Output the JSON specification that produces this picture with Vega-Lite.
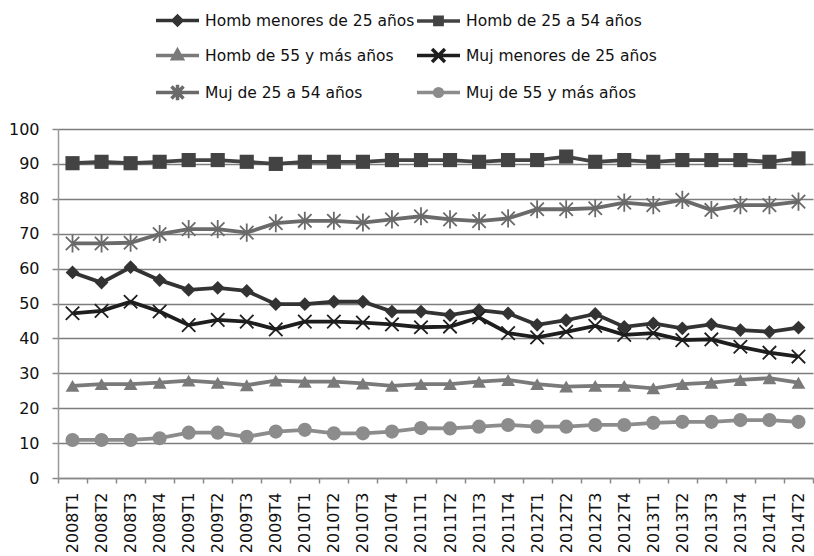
{
  "$schema": "https://vega.github.io/schema/vega-lite/v6.json",
  "width": 755,
  "height": 349,
  "autosize": "none",
  "padding": {"left": 58, "top": 129, "right": 1, "bottom": 78},
  "background": "white",
  "config": {"view": {"stroke": null}},
  "datasets": {
    "serie": [
      {"periodo":"2008T1","serie":"Homb menores de 25 años","valor":58.9},
      {"periodo":"2008T2","serie":"Homb menores de 25 años","valor":56.0},
      {"periodo":"2008T3","serie":"Homb menores de 25 años","valor":60.4},
      {"periodo":"2008T4","serie":"Homb menores de 25 años","valor":56.7},
      {"periodo":"2009T1","serie":"Homb menores de 25 años","valor":53.9},
      {"periodo":"2009T2","serie":"Homb menores de 25 años","valor":54.5},
      {"periodo":"2009T3","serie":"Homb menores de 25 años","valor":53.6},
      {"periodo":"2009T4","serie":"Homb menores de 25 años","valor":49.8},
      {"periodo":"2010T1","serie":"Homb menores de 25 años","valor":49.8},
      {"periodo":"2010T2","serie":"Homb menores de 25 años","valor":50.5},
      {"periodo":"2010T3","serie":"Homb menores de 25 años","valor":50.5},
      {"periodo":"2010T4","serie":"Homb menores de 25 años","valor":47.7},
      {"periodo":"2011T1","serie":"Homb menores de 25 años","valor":47.7},
      {"periodo":"2011T2","serie":"Homb menores de 25 años","valor":46.7},
      {"periodo":"2011T3","serie":"Homb menores de 25 años","valor":48.1},
      {"periodo":"2011T4","serie":"Homb menores de 25 años","valor":47.2},
      {"periodo":"2012T1","serie":"Homb menores de 25 años","valor":43.9},
      {"periodo":"2012T2","serie":"Homb menores de 25 años","valor":45.2},
      {"periodo":"2012T3","serie":"Homb menores de 25 años","valor":47.0},
      {"periodo":"2012T4","serie":"Homb menores de 25 años","valor":43.3},
      {"periodo":"2013T1","serie":"Homb menores de 25 años","valor":44.3},
      {"periodo":"2013T2","serie":"Homb menores de 25 años","valor":42.9},
      {"periodo":"2013T3","serie":"Homb menores de 25 años","valor":44.0},
      {"periodo":"2013T4","serie":"Homb menores de 25 años","valor":42.4},
      {"periodo":"2014T1","serie":"Homb menores de 25 años","valor":41.9},
      {"periodo":"2014T2","serie":"Homb menores de 25 años","valor":43.1},
      {"periodo":"2008T1","serie":"Homb de 25 a 54 años","valor":90.2},
      {"periodo":"2008T2","serie":"Homb de 25 a 54 años","valor":90.6},
      {"periodo":"2008T3","serie":"Homb de 25 a 54 años","valor":90.2},
      {"periodo":"2008T4","serie":"Homb de 25 a 54 años","valor":90.6},
      {"periodo":"2009T1","serie":"Homb de 25 a 54 años","valor":91.1},
      {"periodo":"2009T2","serie":"Homb de 25 a 54 años","valor":91.1},
      {"periodo":"2009T3","serie":"Homb de 25 a 54 años","valor":90.6},
      {"periodo":"2009T4","serie":"Homb de 25 a 54 años","valor":90.0},
      {"periodo":"2010T1","serie":"Homb de 25 a 54 años","valor":90.6},
      {"periodo":"2010T2","serie":"Homb de 25 a 54 años","valor":90.6},
      {"periodo":"2010T3","serie":"Homb de 25 a 54 años","valor":90.6},
      {"periodo":"2010T4","serie":"Homb de 25 a 54 años","valor":91.1},
      {"periodo":"2011T1","serie":"Homb de 25 a 54 años","valor":91.1},
      {"periodo":"2011T2","serie":"Homb de 25 a 54 años","valor":91.1},
      {"periodo":"2011T3","serie":"Homb de 25 a 54 años","valor":90.6},
      {"periodo":"2011T4","serie":"Homb de 25 a 54 años","valor":91.1},
      {"periodo":"2012T1","serie":"Homb de 25 a 54 años","valor":91.1},
      {"periodo":"2012T2","serie":"Homb de 25 a 54 años","valor":92.1},
      {"periodo":"2012T3","serie":"Homb de 25 a 54 años","valor":90.6},
      {"periodo":"2012T4","serie":"Homb de 25 a 54 años","valor":91.1},
      {"periodo":"2013T1","serie":"Homb de 25 a 54 años","valor":90.6},
      {"periodo":"2013T2","serie":"Homb de 25 a 54 años","valor":91.1},
      {"periodo":"2013T3","serie":"Homb de 25 a 54 años","valor":91.1},
      {"periodo":"2013T4","serie":"Homb de 25 a 54 años","valor":91.1},
      {"periodo":"2014T1","serie":"Homb de 25 a 54 años","valor":90.6},
      {"periodo":"2014T2","serie":"Homb de 25 a 54 años","valor":91.6},
      {"periodo":"2008T1","serie":"Homb de 55 y más años","valor":26.4},
      {"periodo":"2008T2","serie":"Homb de 55 y más años","valor":26.9},
      {"periodo":"2008T3","serie":"Homb de 55 y más años","valor":26.9},
      {"periodo":"2008T4","serie":"Homb de 55 y más años","valor":27.3},
      {"periodo":"2009T1","serie":"Homb de 55 y más años","valor":27.9},
      {"periodo":"2009T2","serie":"Homb de 55 y más años","valor":27.3},
      {"periodo":"2009T3","serie":"Homb de 55 y más años","valor":26.6},
      {"periodo":"2009T4","serie":"Homb de 55 y más años","valor":27.9},
      {"periodo":"2010T1","serie":"Homb de 55 y más años","valor":27.6},
      {"periodo":"2010T2","serie":"Homb de 55 y más años","valor":27.6},
      {"periodo":"2010T3","serie":"Homb de 55 y más años","valor":27.1},
      {"periodo":"2010T4","serie":"Homb de 55 y más años","valor":26.4},
      {"periodo":"2011T1","serie":"Homb de 55 y más años","valor":26.9},
      {"periodo":"2011T2","serie":"Homb de 55 y más años","valor":26.9},
      {"periodo":"2011T3","serie":"Homb de 55 y más años","valor":27.6},
      {"periodo":"2011T4","serie":"Homb de 55 y más años","valor":28.1},
      {"periodo":"2012T1","serie":"Homb de 55 y más años","valor":26.9},
      {"periodo":"2012T2","serie":"Homb de 55 y más años","valor":26.2},
      {"periodo":"2012T3","serie":"Homb de 55 y más años","valor":26.4},
      {"periodo":"2012T4","serie":"Homb de 55 y más años","valor":26.4},
      {"periodo":"2013T1","serie":"Homb de 55 y más años","valor":25.7},
      {"periodo":"2013T2","serie":"Homb de 55 y más años","valor":26.9},
      {"periodo":"2013T3","serie":"Homb de 55 y más años","valor":27.3},
      {"periodo":"2013T4","serie":"Homb de 55 y más años","valor":28.1},
      {"periodo":"2014T1","serie":"Homb de 55 y más años","valor":28.6},
      {"periodo":"2014T2","serie":"Homb de 55 y más años","valor":27.3},
      {"periodo":"2008T1","serie":"Muj menores de 25 años","valor":47.2},
      {"periodo":"2008T2","serie":"Muj menores de 25 años","valor":47.9},
      {"periodo":"2008T3","serie":"Muj menores de 25 años","valor":50.5},
      {"periodo":"2008T4","serie":"Muj menores de 25 años","valor":47.7},
      {"periodo":"2009T1","serie":"Muj menores de 25 años","valor":43.8},
      {"periodo":"2009T2","serie":"Muj menores de 25 años","valor":45.3},
      {"periodo":"2009T3","serie":"Muj menores de 25 años","valor":44.8},
      {"periodo":"2009T4","serie":"Muj menores de 25 años","valor":42.6},
      {"periodo":"2010T1","serie":"Muj menores de 25 años","valor":44.8},
      {"periodo":"2010T2","serie":"Muj menores de 25 años","valor":44.8},
      {"periodo":"2010T3","serie":"Muj menores de 25 años","valor":44.5},
      {"periodo":"2010T4","serie":"Muj menores de 25 años","valor":44.0},
      {"periodo":"2011T1","serie":"Muj menores de 25 años","valor":43.2},
      {"periodo":"2011T2","serie":"Muj menores de 25 años","valor":43.4},
      {"periodo":"2011T3","serie":"Muj menores de 25 años","valor":46.0},
      {"periodo":"2011T4","serie":"Muj menores de 25 años","valor":41.5},
      {"periodo":"2012T1","serie":"Muj menores de 25 años","valor":40.3},
      {"periodo":"2012T2","serie":"Muj menores de 25 años","valor":41.9},
      {"periodo":"2012T3","serie":"Muj menores de 25 años","valor":43.6},
      {"periodo":"2012T4","serie":"Muj menores de 25 años","valor":41.0},
      {"periodo":"2013T1","serie":"Muj menores de 25 años","valor":41.5},
      {"periodo":"2013T2","serie":"Muj menores de 25 años","valor":39.5},
      {"periodo":"2013T3","serie":"Muj menores de 25 años","valor":39.7},
      {"periodo":"2013T4","serie":"Muj menores de 25 años","valor":37.6},
      {"periodo":"2014T1","serie":"Muj menores de 25 años","valor":35.9},
      {"periodo":"2014T2","serie":"Muj menores de 25 años","valor":34.8},
      {"periodo":"2008T1","serie":"Muj de 25 a 54 años","valor":67.2},
      {"periodo":"2008T2","serie":"Muj de 25 a 54 años","valor":67.2},
      {"periodo":"2008T3","serie":"Muj de 25 a 54 años","valor":67.4},
      {"periodo":"2008T4","serie":"Muj de 25 a 54 años","valor":69.9},
      {"periodo":"2009T1","serie":"Muj de 25 a 54 años","valor":71.3},
      {"periodo":"2009T2","serie":"Muj de 25 a 54 años","valor":71.3},
      {"periodo":"2009T3","serie":"Muj de 25 a 54 años","valor":70.3},
      {"periodo":"2009T4","serie":"Muj de 25 a 54 años","valor":73.0},
      {"periodo":"2010T1","serie":"Muj de 25 a 54 años","valor":73.7},
      {"periodo":"2010T2","serie":"Muj de 25 a 54 años","valor":73.7},
      {"periodo":"2010T3","serie":"Muj de 25 a 54 años","valor":73.2},
      {"periodo":"2010T4","serie":"Muj de 25 a 54 años","valor":74.1},
      {"periodo":"2011T1","serie":"Muj de 25 a 54 años","valor":75.0},
      {"periodo":"2011T2","serie":"Muj de 25 a 54 años","valor":74.1},
      {"periodo":"2011T3","serie":"Muj de 25 a 54 años","valor":73.6},
      {"periodo":"2011T4","serie":"Muj de 25 a 54 años","valor":74.4},
      {"periodo":"2012T1","serie":"Muj de 25 a 54 años","valor":77.0},
      {"periodo":"2012T2","serie":"Muj de 25 a 54 años","valor":77.0},
      {"periodo":"2012T3","serie":"Muj de 25 a 54 años","valor":77.3},
      {"periodo":"2012T4","serie":"Muj de 25 a 54 años","valor":78.9},
      {"periodo":"2013T1","serie":"Muj de 25 a 54 años","valor":78.2},
      {"periodo":"2013T2","serie":"Muj de 25 a 54 años","valor":79.7},
      {"periodo":"2013T3","serie":"Muj de 25 a 54 años","valor":76.8},
      {"periodo":"2013T4","serie":"Muj de 25 a 54 años","valor":78.2},
      {"periodo":"2014T1","serie":"Muj de 25 a 54 años","valor":78.2},
      {"periodo":"2014T2","serie":"Muj de 25 a 54 años","valor":79.2},
      {"periodo":"2008T1","serie":"Muj de 55 y más años","valor":10.9},
      {"periodo":"2008T2","serie":"Muj de 55 y más años","valor":10.9},
      {"periodo":"2008T3","serie":"Muj de 55 y más años","valor":10.9},
      {"periodo":"2008T4","serie":"Muj de 55 y más años","valor":11.4},
      {"periodo":"2009T1","serie":"Muj de 55 y más años","valor":13.0},
      {"periodo":"2009T2","serie":"Muj de 55 y más años","valor":13.0},
      {"periodo":"2009T3","serie":"Muj de 55 y más años","valor":11.8},
      {"periodo":"2009T4","serie":"Muj de 55 y más años","valor":13.3},
      {"periodo":"2010T1","serie":"Muj de 55 y más años","valor":13.8},
      {"periodo":"2010T2","serie":"Muj de 55 y más años","valor":12.8},
      {"periodo":"2010T3","serie":"Muj de 55 y más años","valor":12.8},
      {"periodo":"2010T4","serie":"Muj de 55 y más años","valor":13.3},
      {"periodo":"2011T1","serie":"Muj de 55 y más años","valor":14.3},
      {"periodo":"2011T2","serie":"Muj de 55 y más años","valor":14.2},
      {"periodo":"2011T3","serie":"Muj de 55 y más años","valor":14.7},
      {"periodo":"2011T4","serie":"Muj de 55 y más años","valor":15.2},
      {"periodo":"2012T1","serie":"Muj de 55 y más años","valor":14.7},
      {"periodo":"2012T2","serie":"Muj de 55 y más años","valor":14.7},
      {"periodo":"2012T3","serie":"Muj de 55 y más años","valor":15.2},
      {"periodo":"2012T4","serie":"Muj de 55 y más años","valor":15.2},
      {"periodo":"2013T1","serie":"Muj de 55 y más años","valor":15.8},
      {"periodo":"2013T2","serie":"Muj de 55 y más años","valor":16.1},
      {"periodo":"2013T3","serie":"Muj de 55 y más años","valor":16.1},
      {"periodo":"2013T4","serie":"Muj de 55 y más años","valor":16.6},
      {"periodo":"2014T1","serie":"Muj de 55 y más años","valor":16.6},
      {"periodo":"2014T2","serie":"Muj de 55 y más años","valor":16.1}
    ]
  },
  "data": {"name": "serie"},
  "encoding": {
    "x": {
      "field": "periodo", "type": "ordinal", "bandPosition": 0.5,
      "scale": {"type": "band", "paddingInner": 0, "paddingOuter": 0},
      "axis": {
        "title": null, "labelAngle": -90, "labelFont": "DejaVu Sans", "labelFontSize": 16,
        "labelColor": "#111", "labelPadding": 9, "tickBand": "extent", "tickSize": 5,
        "tickColor": "#888", "tickWidth": 1.5, "domainColor": "#8a8a8a", "domainWidth": 1.5, "grid": false
      }
    },
    "y": {
      "field": "valor", "type": "quantitative",
      "scale": {"domain": [0, 100], "nice": false},
      "axis": {
        "title": null, "values": [0,10,20,30,40,50,60,70,80,90,100], "labelFont": "DejaVu Sans",
        "labelFontSize": 16, "labelColor": "#111", "labelPadding": 13, "tickSize": 6,
        "tickColor": "#888", "tickWidth": 1.5, "domainColor": "#999", "domainWidth": 1.5,
        "grid": true, "gridColor": "#7d7d7d", "gridWidth": 1.5
      }
    },
    "color": {
      "field": "serie", "type": "nominal",
      "scale": {
        "domain": ["Homb menores de 25 años","Homb de 25 a 54 años","Homb de 55 y más años","Muj menores de 25 años","Muj de 25 a 54 años","Muj de 55 y más años"],
        "range": ["#333333","#434343","#7a7a7a","#1e1e1e","#6a6a6a","#8c8c8c"]
      },
      "legend": {
        "title": null, "orient": "none", "legendX": 96, "legendY": -132, "direction": "horizontal",
        "columns": 2, "columnPadding": -6, "rowPadding": -1, "labelFont": "DejaVu Sans",
        "labelFontSize": 15.5, "labelColor": "#111", "labelLimit": 400, "labelOffset": 4,
        "symbolSize": 1849, "symbolStrokeWidth": 3.5, "symbolOpacity": 1
      }
    }
  },
  "layer": [
    {
      "mark": {"type": "point", "filled": true, "opacity": 0, "strokeWidth": 3.5, "size": 1},
      "encoding": {
        "shape": {
          "field": "serie", "type": "nominal",
          "scale": {
            "domain": ["Homb menores de 25 años","Homb de 25 a 54 años","Homb de 55 y más años","Muj menores de 25 años","Muj de 25 a 54 años","Muj de 55 y más años"],
            "range": [
              "M-1,0H1M-0.2,0L0,-0.2L0.2,0L0,0.2Z",
              "M-1,0H1M-0.17,-0.17H0.17V0.17H-0.17Z",
              "M-1,0H1M0,-0.24L0.22,0.15H-0.22Z",
              "M-1,0H1M-0.3,-0.3L0.3,0.3M-0.3,0.3L0.3,-0.3",
              "M-1,0H1M-0.28,-0.28L0.28,0.28M-0.28,0.28L0.28,-0.28M0,-0.36V0.36",
              "M-1,0H1M0.18,0A0.18,0.18,0,1,1,-0.18,0A0.18,0.18,0,1,1,0.18,0Z"
            ]
          },
          "legend": {
            "title": null, "orient": "none", "legendX": 96, "legendY": -132, "direction": "horizontal",
            "columns": 2, "columnPadding": -6, "rowPadding": -1, "labelFont": "DejaVu Sans",
            "labelFontSize": 15.5, "labelColor": "#111", "labelLimit": 400, "labelOffset": 4,
            "symbolSize": 1849, "symbolStrokeWidth": 3.5, "symbolOpacity": 1
          }
        }
      }
    },
    {
      "mark": {"type": "line", "strokeWidth": 3.8},
      "encoding": {"detail": {"field": "serie"}}
    },
    {
      "transform": [{"filter": {"field": "serie", "equal": "Homb menores de 25 años"}}],
      "mark": {"type": "point", "shape": "diamond", "filled": true, "opacity": 1, "size": 190}
    },
    {
      "transform": [{"filter": {"field": "serie", "equal": "Homb de 25 a 54 años"}}],
      "mark": {"type": "point", "shape": "square", "filled": true, "opacity": 1, "size": 200}
    },
    {
      "transform": [{"filter": {"field": "serie", "equal": "Homb de 55 y más años"}}],
      "mark": {"type": "point", "shape": "triangle-up", "filled": true, "opacity": 1, "size": 190}
    },
    {
      "transform": [{"filter": {"field": "serie", "equal": "Muj menores de 25 años"}}],
      "mark": {"type": "point", "shape": "M-1,-1L1,1M-1,1L1,-1", "filled": false, "opacity": 1, "size": 180, "strokeWidth": 1.8}
    },
    {
      "transform": [{"filter": {"field": "serie", "equal": "Muj de 25 a 54 años"}}],
      "mark": {"type": "point", "shape": "M-1,-1L1,1M-1,1L1,-1M0,-1.35V1.35", "filled": false, "opacity": 1, "size": 180, "strokeWidth": 1.8}
    },
    {
      "transform": [{"filter": {"field": "serie", "equal": "Muj de 55 y más años"}}],
      "mark": {"type": "point", "shape": "circle", "filled": true, "opacity": 1, "size": 200}
    }
  ]
}
